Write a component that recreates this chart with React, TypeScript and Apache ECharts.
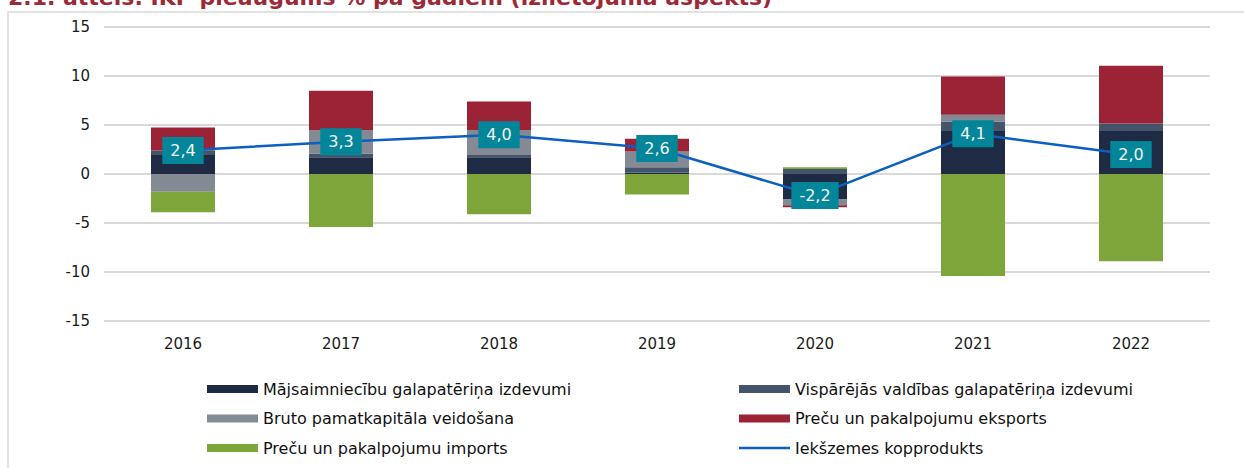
import React, { useEffect, useRef } from "react";
import * as echarts from "echarts";

const years = ["2016", "2017", "2018", "2019", "2020", "2021", "2022"];
const household = [1.95, 1.7, 1.7, 0.15, -2.6, 4.4, 4.4];
const government = [0.45, 0.4, 0.25, 0.55, 0.5, 0.95, 0.75];
const grossCapital = [-1.8, 2.4, 2.55, 1.6, -0.6, 0.7, 0];
const exportsData = [2.35, 4.0, 2.9, 1.3, -0.2, 3.9, 5.9];
const importsData = [-2.1, -5.4, -4.1, -2.1, 0.2, -10.4, -8.9];
const gdp = [2.4, 3.3, 4.0, 2.6, -2.2, 4.1, 2.0];

const names = [
  "Mājsaimniecību galapatēriņa izdevumi",
  "Vispārējās valdības galapatēriņa izdevumi",
  "Bruto pamatkapitāla veidošana",
  "Preču un pakalpojumu eksports",
  "Preču un pakalpojumu imports",
  "Iekšzemes kopprodukts",
];
const colors = ["#1F2A44", "#44546A", "#838A94", "#9C2335", "#7EA53A", "#0B5FC0"];

const FONT = "DejaVu Sans";

export default function App() {
  const ref = useRef<HTMLDivElement>(null);
  useEffect(() => {
    if (!ref.current) return;
    const chart = echarts.init(ref.current, undefined, { renderer: "svg" });
    const barSeries = [household, government, grossCapital, exportsData, importsData].map((d, i) => ({
      name: names[i],
      type: "bar",
      stack: "total",
      barWidth: 64,
      data: d,
      itemStyle: { color: colors[i] },
    }));
    const lineIcon = "path://M0 0H51V2.5H0Z";
    const legendText = { color: "#111", fontSize: 16, fontFamily: FONT, lineHeight: 18 };
    chart.setOption({
      animation: false,
      textStyle: { fontFamily: FONT },
      graphic: [
        {
          type: "rect",
          shape: { x: 8, y: 12, width: 1400, height: 600 },
          style: { fill: "none", stroke: "#D9D9D9", lineWidth: 1.5 },
          silent: true,
        },
        {
          type: "text",
          left: 8,
          top: -14,
          style: {
            text: "2.1. attēls. IKP pieaugums % pa gadiem (izlietojuma aspekts)",
            font: `bold 22px "${FONT}"`,
            fill: "#9C2A36",
          },
        },
      ],
      grid: { left: 104, right: 34, top: 27, bottom: 147 },
      xAxis: {
        type: "category",
        data: years,
        axisLine: { show: false },
        axisTick: { show: false },
        axisLabel: { color: "#1a1a1a", fontSize: 15, fontFamily: FONT, margin: 15 },
      },
      yAxis: {
        type: "value",
        min: -15,
        max: 15,
        interval: 5,
        axisLine: { show: false },
        axisTick: { show: false },
        axisLabel: { color: "#1a1a1a", fontSize: 15, fontFamily: FONT, margin: 14 },
        splitLine: { lineStyle: { color: "#D9D9D9", width: 2 } },
      },
      legend: [
        {
          orient: "vertical",
          left: 202,
          top: 375,
          itemWidth: 51,
          itemHeight: 8,
          itemGap: 11.5,
          icon: "rect",
          data: [names[0], names[2], names[4]],
          textStyle: legendText,
        },
        {
          orient: "vertical",
          left: 734,
          top: 375,
          itemWidth: 51,
          itemHeight: 8,
          itemGap: 11.5,
          icon: "rect",
          data: [names[1], names[3], { name: names[5], icon: lineIcon }],
          textStyle: legendText,
        },
      ],
      series: [
        ...barSeries,
        {
          name: names[5],
          type: "line",
          data: gdp,
          symbol: "circle",
          symbolSize: 1,
          itemStyle: { color: colors[5] },
          lineStyle: { color: colors[5], width: 2.5 },
          z: 5,
          label: {
            show: true,
            position: "inside",
            formatter: (p: any) => p.value.toFixed(1).replace(".", ","),
            backgroundColor: "#04869A",
            color: "#F2F2F2",
            fontSize: 16,
            fontFamily: FONT,
            lineHeight: 17,
            padding: [5, 8, 5, 8],
          },
        },
      ],
    });
    return () => chart.dispose();
  }, []);
  return (
    <div
      ref={ref}
      style={{ position: "absolute", left: 0, top: 0, width: 1244, height: 468 }}
    />
  );
}
